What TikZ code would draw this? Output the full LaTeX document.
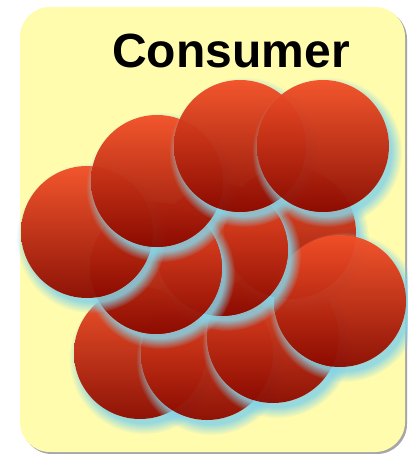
\documentclass[tikz,border=0pt]{standalone}
\usepackage{fontspec}
\setmainfont{Liberation Sans}
\usetikzlibrary{fadings}
\definecolor{bgy}{HTML}{FFFCAE}
\definecolor{glowc}{HTML}{86D3E6}
\definecolor{ctop}{HTML}{F25028}
\definecolor{cmid}{HTML}{C22210}
\definecolor{cbot}{HTML}{8A0A00}
\tikzset{
  glow/.style={fill=glowc, fill opacity=0.85, even odd rule, path fading=circle with fuzzy edge 15 percent},
  ball/.style={top color=ctop, middle color=cmid, bottom color=cbot, opacity=0.96},
  titletext/.style={font=\bfseries\fontsize{48}{48}\selectfont, anchor=base, text=black}
}
\begin{document}
\begin{tikzpicture}[x=1pt,y=-1pt]
\useasboundingbox (0,0) rectangle (407,454);
\fill[black!35, rounded corners=30pt] (22,9) rectangle (407,454);
\fill[bgy, rounded corners=30pt] (20,7) rectangle (405,452);
\node[titletext] (title) at (231,68) {Consumer};
\foreach \n/\x/\y in {D/140/353, E/207/354, F/273/337, C/290/233, G/340/301, B/222/250, A/156/268, L/87/232, UL/157/181, TM/240/146, TR/323/146} {
  \path[glow] (\x+4,\y+6) circle (75) (\x,\y) circle (66);
  \shade[ball] (\x,\y) circle (66);
}
\end{tikzpicture}
\end{document}
